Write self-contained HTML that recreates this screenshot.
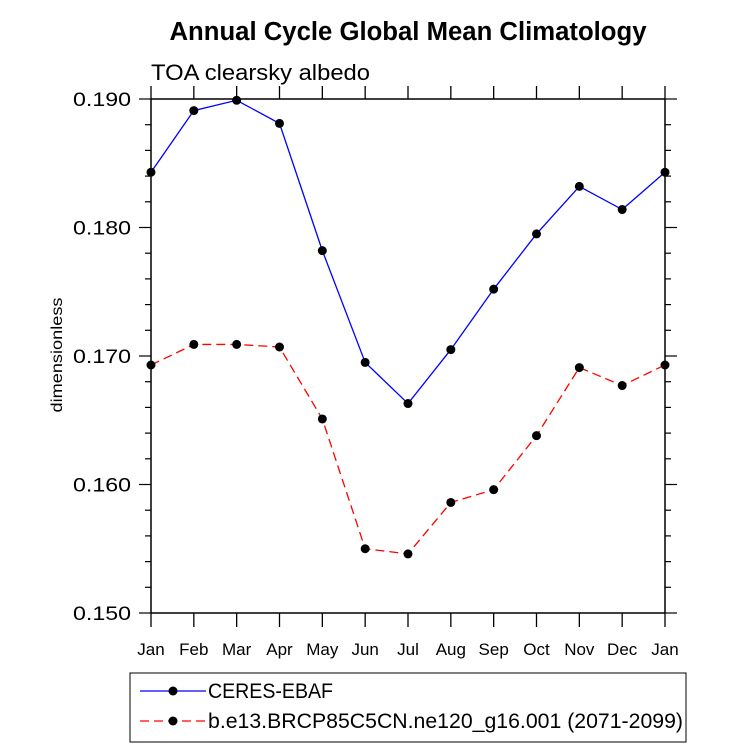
<!DOCTYPE html>
<html><head><meta charset="utf-8"><style>
body{margin:0;background:#fff;}
svg text{font-family:"Liberation Sans",Helvetica,Arial,sans-serif;}
</style></head><body>
<svg id="chart" width="733" height="748" xmlns="http://www.w3.org/2000/svg">
<text x="408" y="40" text-anchor="middle" font-size="25.5" font-weight="bold" textLength="477" lengthAdjust="spacingAndGlyphs">Annual Cycle Global Mean Climatology</text>
<text x="151" y="80" font-size="22" textLength="219" lengthAdjust="spacingAndGlyphs">TOA clearsky albedo</text>
<text transform="translate(62,355) rotate(-90)" text-anchor="middle" font-size="16" textLength="115" lengthAdjust="spacingAndGlyphs">dimensionless</text>
<g id="axes"></g>
<g id="series"></g>
<g id="legend"></g>
</svg>
<script>
const months=["Jan","Feb","Mar","Apr","May","Jun","Jul","Aug","Sep","Oct","Nov","Dec","Jan"];
const ceres=[0.1843,0.1891,0.1899,0.1881,0.1782,0.1695,0.1663,0.1705,0.1752,0.1795,0.1832,0.1814,0.1843];
const model=[0.1693,0.1709,0.1709,0.1707,0.1651,0.1550,0.1546,0.1586,0.1596,0.1638,0.1691,0.1677,0.1693];
const yTicks=[0.150,0.160,0.170,0.180,0.190];
const seriesNames=["CERES-EBAF","b.e13.BRCP85C5CN.ne120_g16.001 (2071-2099)"];
const NS="http://www.w3.org/2000/svg";
const L=151,R=665,T=99,B=613,ymin=0.150,ymax=0.190;
const xs=i=>L+(R-L)*i/(months.length-1);
const ys=v=>B-(v-ymin)/(ymax-ymin)*(B-T);
function mk(tag,attrs,parent){const e=document.createElementNS(NS,tag);for(const k in attrs)e.setAttribute(k,attrs[k]);parent.appendChild(e);return e;}
const ax=document.getElementById('axes');
const frame=mk('rect',{x:L,y:T,width:R-L,height:B-T,fill:'none',stroke:'#000','stroke-width':1.5},ax);


months.forEach((m,i)=>{
 const x=xs(i);
 mk('line',{x1:x,x2:x,y1:B,y2:B+14,stroke:'#000','stroke-width':1.3},ax);
 mk('line',{x1:x,x2:x,y1:T,y2:T-13,stroke:'#000','stroke-width':1.3},ax);
 const t=mk('text',{x:x,y:655,'text-anchor':'middle','font-size':17},ax);t.textContent=m;
 
 
});
for(let v=ymin;v<=ymax+1e-9;v+=0.002){
 const y=ys(v);const major=Math.abs(Math.round(v*100)-v*100)<1e-6;
 const len=major?12:6;
 mk('line',{x1:L-len,x2:L,y1:y,y2:y,stroke:'#000','stroke-width':1.2},ax);
 mk('line',{x1:R,x2:R+len,y1:y,y2:y,stroke:'#000','stroke-width':1.2},ax);
}
yTicks.forEach(v=>{
 const t=mk('text',{x:131,y:ys(v)+7,'text-anchor':'end','font-size':19,textLength:58,lengthAdjust:'spacingAndGlyphs'},ax);t.textContent=v.toFixed(3);
 
 
});
const sg=document.getElementById('series');
function drawSeries(vals,color,dash,name){
 const g=mk('g',{},sg);
 
 
 const pts=vals.map((v,i)=>xs(i)+','+ys(v)).join(' ');
 const a={points:pts,fill:'none',stroke:color,'stroke-width':1.3};if(dash)a['stroke-dasharray']=dash;
 mk('polyline',a,g);
 vals.forEach((v,i)=>{const c=mk('circle',{cx:xs(i),cy:ys(v),r:4.5,fill:'#000'},g);
  
  });
}
drawSeries(ceres,'#0000ff',null,'ceres-ebaf-line');
drawSeries(model,'#ff0000','9,5','model-line');
const lg=document.getElementById('legend');


mk('rect',{x:130,y:673,width:556,height:69,fill:'none',stroke:'#000','stroke-width':1},lg);
const ly=[691,721],lc=['#0000ff','#ff0000'],ld=[null,'9,5'],lw=[125,475];
seriesNames.forEach((n,i)=>{
 const g=mk('g',{},lg);
 
 
 const a={x1:140,x2:206,y1:ly[i],y2:ly[i],stroke:lc[i],'stroke-width':1.3};if(ld[i])a['stroke-dasharray']=ld[i];
 mk('line',a,g);
 mk('circle',{cx:173,cy:ly[i],r:4.5,fill:'#000'},g);
 const t=mk('text',{x:208,y:ly[i]+7,'font-size':21,textLength:lw[i],lengthAdjust:'spacingAndGlyphs'},g);t.textContent=n;
});
</script>
</body></html>
